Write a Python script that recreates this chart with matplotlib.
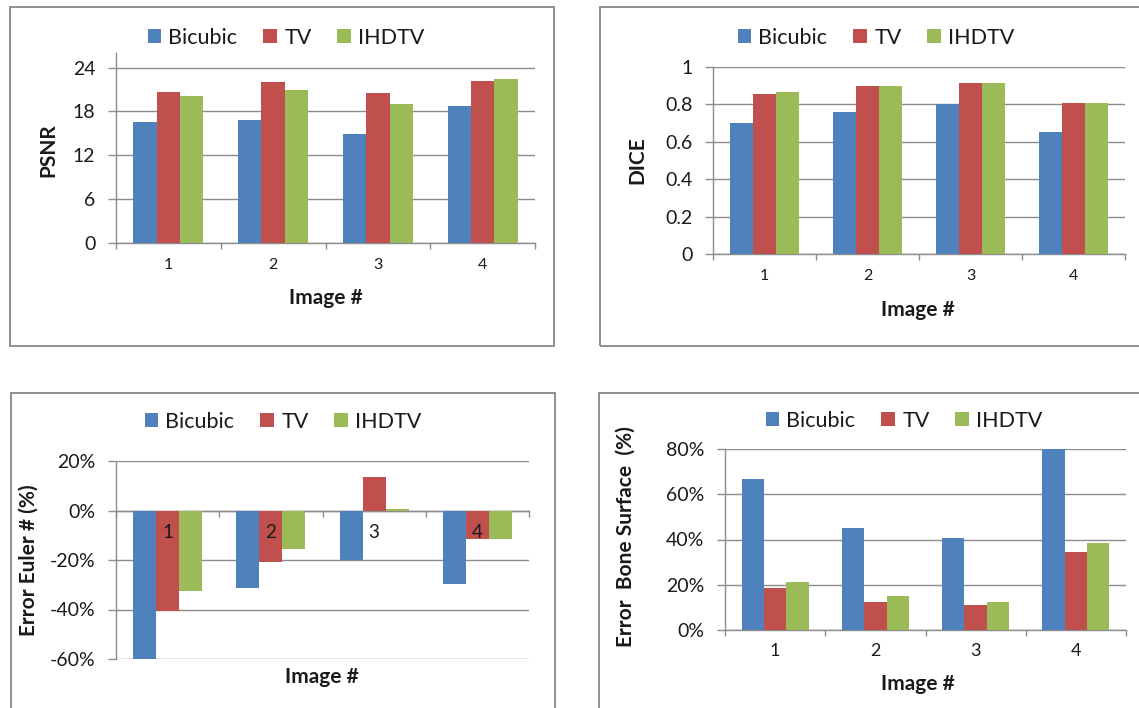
import numpy as np
import matplotlib
matplotlib.use('Agg')
import matplotlib.pyplot as plt
from matplotlib.patches import Rectangle
from matplotlib.ticker import FuncFormatter

plt.rcParams['font.family'] = 'Lato'

# results per test image
images = ['1', '2', '3', '4']
methods = ['Bicubic', 'TV', 'IHDTV']
colors = ['#4F81BD', '#C0504D', '#9BBB59']

psnr_bicubic = [16.5, 16.8, 14.9, 18.8]
psnr_tv = [20.7, 22.0, 20.5, 22.2]
psnr_ihdtv = [20.1, 20.9, 19.0, 22.4]

dice_bicubic = [0.70, 0.758, 0.80, 0.65]
dice_tv = [0.858, 0.90, 0.916, 0.808]
dice_ihdtv = [0.867, 0.90, 0.916, 0.808]

euler_bicubic = [-60.0, -31.5, -20.0, -29.5]
euler_tv = [-40.7, -20.8, 13.4, -11.7]
euler_ihdtv = [-32.5, -15.7, 0.7, -11.5]

bone_bicubic = [66.6, 45.3, 40.7, 80.0]
bone_tv = [18.5, 12.3, 10.9, 34.4]
bone_ihdtv = [21.3, 14.9, 12.3, 38.5]

W, H = 1139, 708
GRID = '#8c8c8c'
TEXT = '#1a1a1a'

fig = plt.figure(figsize=(W / 100, H / 100), dpi=100)


def px_axes(x0, y0, x1, y1):
    return fig.add_axes([x0 / W, 1 - y1 / H, (x1 - x0) / W, (y1 - y0) / H])


def frame(x0, y0, x1, y1):
    fig.patches.append(Rectangle((x0 / W, 1 - y1 / H), (x1 - x0) / W, (y1 - y0) / H,
                                 transform=fig.transFigure, fill=False,
                                 edgecolor='#8f8f8f', lw=1.4))


def panel(ax, series, ylim, yticks, fmt, xsize, xpad, zero_axis=False):
    x = np.arange(1, len(images) + 1)
    w = 1 / 4.5
    bars = []
    for i, vals in enumerate(series):
        bars.append(ax.bar(x + (i - 1) * w, vals, w, color=colors[i],
                           label=methods[i], zorder=3))
    ax.set_xlim(0.5, len(images) + 0.5)
    ax.set_ylim(*ylim)
    ax.set_yticks(yticks)
    ax.yaxis.set_major_formatter(FuncFormatter(fmt))
    ax.set_xticks(x)
    ax.set_xticklabels(images)
    ax.set_xticks(np.arange(0.5, len(images) + 1), minor=True)
    ax.tick_params(axis='x', which='major', length=0, labelsize=xsize,
                   pad=xpad, labelcolor=TEXT)
    ax.tick_params(axis='x', which='minor', length=4.5, width=1,
                   color=GRID, direction='out')
    ax.tick_params(axis='y', length=5.8, width=1, color=GRID,
                   labelsize=14, pad=9, labelcolor=TEXT)
    ax.yaxis.grid(True, color=GRID, lw=1)
    ax.set_axisbelow(True)
    for s in ['top', 'right']:
        ax.spines[s].set_visible(False)
    for s in ['left', 'bottom']:
        ax.spines[s].set_color(GRID)
        ax.spines[s].set_linewidth(1)
    if zero_axis:
        # category labels sit on the zero line, over the negative bars
        ax.spines['bottom'].set_position(('data', 0))
        ax.xaxis.set_zorder(4)
    return bars


def legend(bars, cx, cy):
    fig.legend(bars, methods, loc='center', ncol=3,
               bbox_to_anchor=(cx / W, 1 - cy / H), frameon=False,
               fontsize=15.5, handlelength=0.62, handleheight=0.62,
               handletextpad=0.35, columnspacing=1.2, labelcolor=TEXT)


def label(x, y, s, rot=0):
    fig.text(x / W, 1 - y / H, s, ha='center', va='center', rotation=rot,
             fontsize=15, fontweight='bold', color=TEXT)


# PSNR
frame(10, 7, 554, 346)
ax1 = px_axes(116, 53, 535, 243)
b = panel(ax1, [psnr_bicubic, psnr_tv, psnr_ihdtv], (0, 26), range(0, 25, 6),
          lambda v, p: f'{v:.0f}', 11.5, 11)
legend(b, 286, 38)
label(326, 298, 'Image #')
label(48, 150, 'PSNR', 90)

# DICE
frame(600, 7, 1160, 346)
ax2 = px_axes(713, 67, 1125, 254)
b = panel(ax2, [dice_bicubic, dice_tv, dice_ihdtv], (0, 1),
          [0, 0.2, 0.4, 0.6, 0.8, 1.0],
          lambda v, p: f'{v:g}', 11.5, 11)
legend(b, 876, 38)
label(918, 310, 'Image #')
label(637, 160, 'DICE', 90)

# Euler number error
frame(11, 393, 555, 720)
ax3 = px_axes(116, 461, 529, 659)
b = panel(ax3, [euler_bicubic, euler_tv, euler_ihdtv], (-60, 20),
          range(-60, 21, 20), lambda v, p: f'{v:.0f}%', 13.5, 10,
          zero_axis=True)
legend(b, 283, 422)
label(322, 677, 'Image #')
label(29, 560, 'Error Euler # (%)', 90)

# bone surface error
frame(599, 393, 1160, 720)
ax4 = px_axes(725, 449, 1126, 630)
b = panel(ax4, [bone_bicubic, bone_tv, bone_ihdtv], (0, 80),
          range(0, 81, 20), lambda v, p: f'{v:.0f}%', 13, 9)
legend(b, 904, 421)
label(918, 684, 'Image #')
label(626, 537, 'Error  Bone Surface  (%)', 90)

fig.savefig('out.png', dpi=100)
